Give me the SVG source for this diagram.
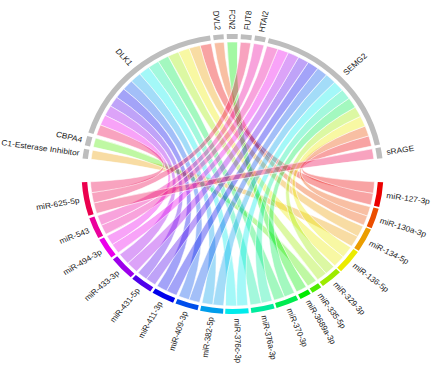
<svg xmlns="http://www.w3.org/2000/svg" width="446" height="372" viewBox="0 0 446 372">
<style>
.ring{fill:none;stroke-width:5}
.gy{stroke:#bdbdbd}
.lk path{stroke:#fff;stroke-width:0.7;stroke-opacity:0.8;fill-opacity:0.36}
text{font-family:"Liberation Sans",Arial,sans-serif;font-size:7.8px;fill:#1a1a1a}
.s{text-anchor:start}
.e{text-anchor:end}
</style>
<rect width="446" height="372" fill="#fff"/>
<g transform="translate(232.5,174) scale(1.078,1)">
<g id="links" class="lk">
<path fill="#eb0000" d="M131.77 7.83A132 132 0 0 1 130.55 19.51Q0 0 126.37 -38.15A132 132 0 0 1 129.02 -27.89Q0 0 131.77 7.83Z"/>
<path fill="#eb0000" d="M130.55 19.51A132 132 0 0 1 128.3 31.04Q0 0 -30.14 -128.51A132 132 0 0 1 -19.74 -130.52Q0 0 130.55 19.51Z"/>
<path fill="#eb4e00" d="M127.85 32.83A132 132 0 0 1 125.11 42.1Q0 0 122.98 -47.95A132 132 0 0 1 126.37 -38.15Q0 0 127.85 32.83Z"/>
<path fill="#eb4e00" d="M125.11 42.1A132 132 0 0 1 121.69 51.15Q0 0 -17 -130.9A132 132 0 0 1 -7.83 -131.77Q0 0 125.11 42.1Z"/>
<path fill="#eb9d00" d="M121.14 52.42A132 132 0 0 1 116.22 62.58Q0 0 -40.35 -125.68A132 132 0 0 1 -30.14 -128.51Q0 0 121.14 52.42Z"/>
<path fill="#eb9d00" d="M116.22 62.58A132 132 0 0 1 110.45 72.28Q0 0 -131.18 -14.71A132 132 0 0 1 -129.83 -23.83Q0 0 116.22 62.58Z"/>
<path fill="#ebeb00" d="M109.69 73.43A132 132 0 0 1 102.72 82.89Q0 0 118.74 -57.66A132 132 0 0 1 122.98 -47.95Q0 0 109.69 73.43Z"/>
<path fill="#ebeb00" d="M102.72 82.89A132 132 0 0 1 94.95 91.7Q0 0 -50.3 -122.04A132 132 0 0 1 -40.35 -125.68Q0 0 102.72 82.89Z"/>
<path fill="#9deb00" d="M93.99 92.68A132 132 0 0 1 86.8 99.44Q0 0 113.85 -66.8A132 132 0 0 1 118.74 -57.66Q0 0 93.99 92.68Z"/>
<path fill="#9deb00" d="M86.8 99.44A132 132 0 0 1 79.07 105.7Q0 0 -59.72 -117.72A132 132 0 0 1 -50.3 -122.04Q0 0 86.8 99.44Z"/>
<path fill="#4eeb00" d="M77.59 106.79A132 132 0 0 1 69.95 111.94Q0 0 -129.21 -26.99A132 132 0 0 1 -127.01 -35.94Q0 0 77.59 106.79Z"/>
<path fill="#00eb00" d="M68.38 112.91A132 132 0 0 1 59.52 117.82Q0 0 -5.07 -131.9A132 132 0 0 1 4.61 -131.92Q0 0 68.38 112.91Z"/>
<path fill="#00eb4e" d="M57.45 118.84A132 132 0 0 1 48.16 122.9Q0 0 108.13 -75.71A132 132 0 0 1 113.85 -66.8Q0 0 57.45 118.84Z"/>
<path fill="#00eb4e" d="M48.16 122.9A132 132 0 0 1 38.59 126.23Q0 0 -68.97 -112.55A132 132 0 0 1 -59.72 -117.72Q0 0 48.16 122.9Z"/>
<path fill="#00eb9d" d="M36.83 126.76A132 132 0 0 1 26.77 129.26Q0 0 101.85 -83.96A132 132 0 0 1 108.13 -75.71Q0 0 36.83 126.76Z"/>
<path fill="#00eb9d" d="M26.77 129.26A132 132 0 0 1 16.54 130.96Q0 0 -77.77 -106.65A132 132 0 0 1 -68.97 -112.55Q0 0 26.77 129.26Z"/>
<path fill="#00ebeb" d="M14.26 131.23A132 132 0 0 1 3.92 131.94Q0 0 94.79 -91.86A132 132 0 0 1 101.85 -83.96Q0 0 14.26 131.23Z"/>
<path fill="#00ebeb" d="M3.92 131.94A132 132 0 0 1 -6.45 131.84Q0 0 -86.08 -100.07A132 132 0 0 1 -77.77 -106.65Q0 0 3.92 131.94Z"/>
<path fill="#009deb" d="M-8.29 131.74A132 132 0 0 1 -18.37 130.72Q0 0 87.13 -99.15A132 132 0 0 1 94.79 -91.86Q0 0 -8.29 131.74Z"/>
<path fill="#009deb" d="M-18.37 130.72A132 132 0 0 1 -28.35 128.92Q0 0 -93.81 -92.86A132 132 0 0 1 -86.08 -100.07Q0 0 -18.37 130.72Z"/>
<path fill="#004eeb" d="M-30.59 128.41A132 132 0 0 1 -40.35 125.68Q0 0 79.07 -105.7A132 132 0 0 1 87.13 -99.15Q0 0 -30.59 128.41Z"/>
<path fill="#004eeb" d="M-40.35 125.68A132 132 0 0 1 -49.87 122.21Q0 0 -100.97 -85.02A132 132 0 0 1 -93.81 -92.86Q0 0 -40.35 125.68Z"/>
<path fill="#0000eb" d="M-52 121.33A132 132 0 0 1 -61.16 116.98Q0 0 70.34 -111.7A132 132 0 0 1 79.07 -105.7Q0 0 -52 121.33Z"/>
<path fill="#0000eb" d="M-61.16 116.98A132 132 0 0 1 -69.95 111.94Q0 0 -107.46 -76.65A132 132 0 0 1 -100.97 -85.02Q0 0 -61.16 116.98Z"/>
<path fill="#4e00eb" d="M-71.89 110.7A132 132 0 0 1 -79.99 105Q0 0 61.36 -116.87A132 132 0 0 1 70.34 -111.7Q0 0 -71.89 110.7Z"/>
<path fill="#4e00eb" d="M-79.99 105A132 132 0 0 1 -87.67 98.68Q0 0 -113.15 -67.99A132 132 0 0 1 -107.46 -76.65Q0 0 -79.99 105Z"/>
<path fill="#9d00eb" d="M-89.04 97.45A132 132 0 0 1 -97.17 89.35Q0 0 51.79 -121.42A132 132 0 0 1 61.36 -116.87Q0 0 -89.04 97.45Z"/>
<path fill="#9d00eb" d="M-97.17 89.35A132 132 0 0 1 -104.58 80.54Q0 0 -118.23 -58.69A132 132 0 0 1 -113.15 -67.99Q0 0 -97.17 89.35Z"/>
<path fill="#eb00eb" d="M-105.97 78.7A132 132 0 0 1 -111.57 70.53Q0 0 42.1 -125.11A132 132 0 0 1 51.79 -121.42Q0 0 -105.97 78.7Z"/>
<path fill="#eb00eb" d="M-111.57 70.53A132 132 0 0 1 -116.55 61.97Q0 0 -122.56 -49.02A132 132 0 0 1 -118.23 -58.69Q0 0 -111.57 70.53Z"/>
<path fill="#eb009d" d="M-117.4 60.33A132 132 0 0 1 -121.69 51.15Q0 0 31.93 -128.08A132 132 0 0 1 42.1 -125.11Q0 0 -117.4 60.33Z"/>
<path fill="#eb009d" d="M-121.69 51.15A132 132 0 0 1 -125.25 41.67Q0 0 19.74 -130.52A132 132 0 0 1 29.24 -128.72Q0 0 -121.69 51.15Z"/>
<path fill="#eb004e" d="M-125.96 39.47A132 132 0 0 1 -128.77 29.02Q0 0 129.58 -25.19A132 132 0 0 1 131.15 -14.94Q0 0 -125.96 39.47Z"/>
<path fill="#eb004e" d="M-128.77 29.02A132 132 0 0 1 -130.68 18.6Q0 0 7.37 -131.79A132 132 0 0 1 17 -130.9Q0 0 -128.77 29.02Z"/>
<path fill="#eb004e" d="M-130.68 18.6A132 132 0 0 1 -131.77 7.83Q0 0 -126.1 -39.03A132 132 0 0 1 -122.56 -49.02Q0 0 -130.68 18.6Z"/>
</g>
<g id="node-C1-Esterase-Inhibitor"><path class="ring gy" d="M-136.64 -15.33A137.5 137.5 0 0 1 -135.24 -24.82"/><text class="e" dy="0.35em" transform="rotate(8.4) translate(-143.5,0)">C1-Esterase Inhibitor</text></g>
<g id="node-CBPA4"><path class="ring gy" d="M-134.6 -28.12A137.5 137.5 0 0 1 -132.31 -37.44"/><text class="e" dy="0.35em" transform="rotate(13.8) translate(-143.5,0)">CBPA4</text></g>
<g id="node-DLK1"><path class="ring gy" d="M-131.35 -40.66A137.5 137.5 0 0 1 -20.56 -135.95"/><text class="e" dy="0.35em" transform="rotate(49.3) translate(-144.5,0)">DLK1</text></g>
<g id="node-DVL2"><path class="ring gy" d="M-17.71 -136.35A137.5 137.5 0 0 1 -8.16 -137.26"/><text class="e" dy="0.35em" transform="rotate(84.6) translate(-144.5,0)">DVL2</text></g>
<g id="node-FCN2"><path class="ring gy" d="M-5.28 -137.4A137.5 137.5 0 0 1 4.8 -137.42"/><text class="e" dy="0.35em" transform="rotate(89.9) translate(-144.5,0)">FCN2</text></g>
<g id="node-FUT8"><path class="ring gy" d="M7.68 -137.29A137.5 137.5 0 0 1 17.71 -136.35"/><text class="s" dy="0.35em" transform="rotate(275.3) translate(144.5,0)">FUT8</text></g>
<g id="node-HTAI2"><path class="ring gy" d="M20.56 -135.95A137.5 137.5 0 0 1 30.46 -134.08"/><text class="s" dy="0.35em" transform="rotate(280.7) translate(144.5,0)">HTAI2</text></g>
<g id="node-SEMG2"><path class="ring gy" d="M33.26 -133.42A137.5 137.5 0 0 1 134.4 -29.06"/><text class="s" dy="0.35em" transform="rotate(315.9) translate(144.5,0)">SEMG2</text></g>
<g id="node-sRAGE"><path class="ring gy" d="M134.97 -26.24A137.5 137.5 0 0 1 136.62 -15.57"/><text class="s" dy="0.35em" transform="rotate(351.25) translate(144.5,0)">sRAGE</text></g>
<g id="node-miR-127-3p"><path class="ring" stroke="#eb0000" d="M137.26 8.16A137.5 137.5 0 0 1 133.64 32.33"/><text class="s" dy="0.35em" transform="rotate(8.5) translate(144.5,0)">miR-127-3p</text></g>
<g id="node-miR-130a-3p"><path class="ring" stroke="#eb4e00" d="M133.18 34.19A137.5 137.5 0 0 1 126.76 53.28"/><text class="s" dy="0.35em" transform="rotate(18.6) translate(144.5,0)">miR-130a-3p</text></g>
<g id="node-miR-134-5p"><path class="ring" stroke="#eb9d00" d="M126.19 54.61A137.5 137.5 0 0 1 115.05 75.29"/><text class="s" dy="0.35em" transform="rotate(28.3) translate(144.5,0)">miR-134-5p</text></g>
<g id="node-miR-136-5p"><path class="ring" stroke="#ebeb00" d="M114.26 76.49A137.5 137.5 0 0 1 98.91 95.52"/><text class="s" dy="0.35em" transform="rotate(38.9) translate(144.5,0)">miR-136-5p</text></g>
<g id="node-miR-329-3p"><path class="ring" stroke="#9deb00" d="M97.9 96.55A137.5 137.5 0 0 1 82.37 110.1"/><text class="s" dy="0.35em" transform="rotate(48.9) translate(144.5,0)">miR-329-3p</text></g>
<g id="node-miR-335-5p"><path class="ring" stroke="#4eeb00" d="M80.82 111.24A137.5 137.5 0 0 1 72.86 116.61"/><text class="s" dy="0.35em" transform="rotate(56) translate(144.5,0)">miR-335-5p</text></g>
<g id="node-miR-3689a-3p"><path class="ring" stroke="#00eb00" d="M71.23 117.61A137.5 137.5 0 0 1 62 122.73"/><text class="s" dy="0.35em" transform="rotate(61) translate(144.5,0)">miR-3689a-3p</text></g>
<g id="node-miR-370-3p"><path class="ring" stroke="#00eb4e" d="M59.84 123.79A137.5 137.5 0 0 1 40.2 131.49"/><text class="s" dy="0.35em" transform="rotate(68.6) translate(144.5,0)">miR-370-3p</text></g>
<g id="node-miR-376a-3p"><path class="ring" stroke="#00eb9d" d="M38.36 132.04A137.5 137.5 0 0 1 17.23 136.42"/><text class="s" dy="0.35em" transform="rotate(78.3) translate(144.5,0)">miR-376a-3p</text></g>
<g id="node-miR-376c-3p"><path class="ring" stroke="#00ebeb" d="M14.85 136.7A137.5 137.5 0 0 1 -6.72 137.34"/><text class="s" dy="0.35em" transform="rotate(88.3) translate(144.5,0)">miR-376c-3p</text></g>
<g id="node-miR-382-5p"><path class="ring" stroke="#009deb" d="M-8.63 137.23A137.5 137.5 0 0 1 -29.53 134.29"/><text class="e" dy="0.35em" transform="rotate(-82) translate(-144.5,0)">miR-382-5p</text></g>
<g id="node-miR-409-3p"><path class="ring" stroke="#004eeb" d="M-31.87 133.76A137.5 137.5 0 0 1 -51.95 127.31"/><text class="e" dy="0.35em" transform="rotate(-72.2) translate(-144.5,0)">miR-409-3p</text></g>
<g id="node-miR-411-3p"><path class="ring" stroke="#0000eb" d="M-54.17 126.38A137.5 137.5 0 0 1 -72.86 116.61"/><text class="e" dy="0.35em" transform="rotate(-62.4) translate(-144.5,0)">miR-411-3p</text></g>
<g id="node-miR-431-5p"><path class="ring" stroke="#4e00eb" d="M-74.89 115.32A137.5 137.5 0 0 1 -91.32 102.8"/><text class="e" dy="0.35em" transform="rotate(-52.7) translate(-144.5,0)">miR-431-5p</text></g>
<g id="node-miR-433-3p"><path class="ring" stroke="#9d00eb" d="M-92.75 101.51A137.5 137.5 0 0 1 -108.94 83.9"/><text class="e" dy="0.35em" transform="rotate(-42.6) translate(-144.5,0)">miR-433-3p</text></g>
<g id="node-miR-494-3p"><path class="ring" stroke="#eb00eb" d="M-110.39 81.98A137.5 137.5 0 0 1 -121.41 64.55"/><text class="e" dy="0.35em" transform="rotate(-32.3) translate(-144.5,0)">miR-494-3p</text></g>
<g id="node-miR-543"><path class="ring" stroke="#eb009d" d="M-122.3 62.84A137.5 137.5 0 0 1 -130.47 43.4"/><text class="e" dy="0.35em" transform="rotate(-22.8) translate(-144.5,0)">miR-543</text></g>
<g id="node-miR-625-5p"><path class="ring" stroke="#eb004e" d="M-131.21 41.12A137.5 137.5 0 0 1 -137.26 8.16"/><text class="e" dy="0.35em" transform="rotate(-10.4) translate(-144.5,0)">miR-625-5p</text></g>
</g>
</svg>
